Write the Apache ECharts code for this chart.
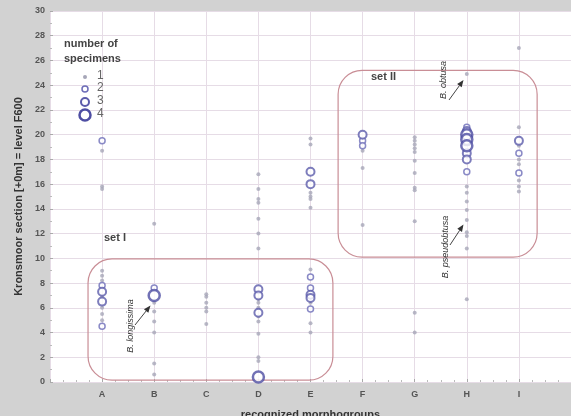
<!DOCTYPE html>
<html><head><meta charset="utf-8">
<script src="https://cdn.jsdelivr.net/npm/echarts@6/dist/echarts.min.js"></script>
<style>html,body{margin:0;padding:0;background:#d2d2d2;}#c{width:571px;height:416px;}</style>
</head><body><div id="c"></div>
<script>
// categories (morphogroups)
const categories = ['A','B','C','D','E','F','G','H','I'];
const yTicks = [0,2,4,6,8,10,12,14,16,18,20,22,24,26,28,30];
// [level in m, number of specimens]
const colA = [[19.5,2],[18.7,1],[15.8,1],[15.6,1],[9.0,1],[8.6,1],[8.2,1],[7.8,2],[7.3,3],[6.9,1],[6.5,3],[6.0,1],[5.5,1],[5.0,1],[4.5,2]];
const colB = [[12.8,1],[7.6,2],[7.0,4],[6.4,1],[5.7,1],[4.9,1],[4.0,1],[1.5,1],[0.6,1]];
const colC = [[7.1,1],[6.9,1],[6.4,1],[6.0,1],[5.7,1],[4.7,1]];
const colD = [[16.8,1],[15.6,1],[14.8,1],[14.5,1],[13.2,1],[12.0,1],[10.8,1],[7.5,3],[7.0,3],[6.7,1],[6.4,1],[6.0,1],[5.6,3],[5.3,1],[4.9,1],[3.9,1],[2.0,1],[1.7,1],[0.4,4]];
const colE = [[19.7,1],[19.2,1],[17.0,3],[16.0,3],[15.3,1],[15.0,1],[14.8,1],[14.1,1],[9.1,1],[8.5,2],[7.6,2],[7.05,3],[6.8,3],[6.4,1],[5.9,2],[4.75,1],[4.0,1]];
const colF = [[20.0,3],[19.5,2],[19.1,2],[18.7,1],[17.3,1],[12.7,1]];
const colG = [[19.8,1],[19.5,1],[19.2,1],[18.9,1],[18.6,1],[17.9,1],[16.9,1],[15.7,1],[15.5,1],[13.0,1],[5.6,1],[4.0,1]];
const colH = [[24.9,1],[20.6,2],[20.3,3],[20.0,4],[19.6,4],[19.1,4],[18.5,3],[18.0,3],[17.0,2],[15.8,1],[15.3,1],[14.6,1],[13.9,1],[13.1,1],[12.1,1],[11.8,1],[10.8,1],[6.7,1]];
const colI = [[27.0,1],[20.6,1],[19.5,3],[19.1,1],[18.5,2],[18.0,1],[17.6,1],[16.9,2],[16.3,1],[15.8,1],[15.4,1]];
const columns = [colA,colB,colC,colD,colE,colF,colG,colH,colI];

const styles = {
  1:{size:4, item:{color:'#a6a6b8', borderWidth:0}},
  2:{size:6, item:{color:'#ffffff', borderColor:'#6d6db8', borderWidth:1.5}},
  3:{size:8, item:{color:'#ffffff', borderColor:'#5c5cab', borderWidth:2}},
  4:{size:11, item:{color:'#ffffff', borderColor:'#4e4ea3', borderWidth:2.5}}
};
const series = [1,2,3,4].map(n => {
  const d = [];
  columns.forEach((col, ci) => col.forEach(p => { if (p[1] === n) d.push([ci + 1, p[0]]); }));
  return {type:'scatter', name:String(n), data:d, symbol:'circle', symbolSize:styles[n].size, itemStyle:styles[n].item, z:2+n, silent:true};
});

const chart = echarts.init(document.getElementById('c'));
const labelFont = {fontFamily:'Liberation Sans, Arial, sans-serif', fontWeight:'bold', fontSize:9, color:'#555'};
chart.setOption({
  backgroundColor:'#d2d2d2',
  animation:false,
  grid:{left:50, right:0, top:11, bottom:34, show:true, backgroundColor:'#ffffff', borderWidth:0, outerBoundsMode:'none', containLabel:false},
  xAxis:{type:'value', min:0, max:10, interval:1,
    name:'recognized morphogroups', nameLocation:'middle', nameGap:27,
    nameTextStyle:{fontFamily:'Liberation Sans, Arial, sans-serif', fontWeight:'bold', fontSize:11, color:'#333'},
    axisLine:{show:false},
    axisTick:{show:true, inside:true, length:3, lineStyle:{color:'#aaa'}},
    minorTick:{show:true, splitNumber:4, length:2, lineStyle:{color:'#bbb'}},
    axisLabel:Object.assign({margin:8, formatter:v => categories[v-1] || '', showMinLabel:false, showMaxLabel:false}, labelFont),
    splitLine:{show:true, lineStyle:{color:'#e6dce6', width:1}}
  },
  yAxis:{type:'value', min:0, max:30, interval:2,
    name:'Kronsmoor section [+0m] = level F600', nameLocation:'middle', nameGap:25,
    nameTextStyle:{fontFamily:'Liberation Sans, Arial, sans-serif', fontWeight:'bold', fontSize:11, color:'#333'},
    axisLine:{show:false},
    axisTick:{show:true, inside:true, length:3, lineStyle:{color:'#aaa'}},
    minorTick:{show:true, splitNumber:2, length:2, lineStyle:{color:'#bbb'}},
    axisLabel:Object.assign({margin:5, formatter:v => yTicks.indexOf(v) >= 0 ? String(v) : ''}, labelFont),
    splitLine:{show:true, lineStyle:{color:'#e6dce6', width:1}}
  },
  series: series
});

function px(x, y){ return chart.convertToPixel({gridIndex:0}, [x, y]); }
function box(x0, y0, x1, y1, r){
  const a = px(x0, y0), b = px(x1, y1);
  return {type:'rect', shape:{x:a[0], y:a[1], width:b[0]-a[0], height:b[1]-a[1], r:r},
    style:{fill:'none', stroke:'#c98e96', lineWidth:1.2}, z:1, silent:true};
}
function arrow(x0, y0, x1, y1){
  const ang = Math.atan2(y1 - y0, x1 - x0), L = 7, W = 2.8;
  const bx = x1 - L*Math.cos(ang), by = y1 - L*Math.sin(ang);
  const nx = -Math.sin(ang), ny = Math.cos(ang);
  return [
    {type:'line', shape:{x1:x0, y1:y0, x2:bx, y2:by}, style:{stroke:'#444', lineWidth:1}, z:10},
    {type:'polygon', shape:{points:[[x1,y1],[bx+nx*W,by+ny*W],[bx-nx*W,by-ny*W]]}, style:{fill:'#333'}, z:10}
  ];
}
const tFont = 'Liberation Sans, Arial, sans-serif';
const g = [
  box(0.73, 9.95, 5.43, 0.15, 24),
  box(5.53, 25.2, 9.35, 10.1, 24),
  {type:'text', left:104, top:232, style:{text:'set I', font:'bold 11px '+tFont, fill:'#444'}, z:10},
  {type:'text', left:371, top:71, style:{text:'set II', font:'bold 11px '+tFont, fill:'#444'}, z:10},
  {type:'text', x:130, y:326, rotation:Math.PI/2, style:{text:'B. longissima', font:'italic 9px '+tFont, fill:'#333', align:'center', verticalAlign:'middle'}, z:10},
  {type:'text', x:443, y:80, rotation:Math.PI/2, style:{text:'B. obtusa', font:'italic 9px '+tFont, fill:'#333', align:'center', verticalAlign:'middle'}, z:10},
  {type:'text', x:445, y:247, rotation:Math.PI/2, style:{text:'B. pseudobtusa', font:'italic 9px '+tFont, fill:'#333', align:'center', verticalAlign:'middle'}, z:10},
  {type:'text', left:64, top:36, style:{text:'number of\nspecimens', font:'bold 11px '+tFont, fill:'#444', lineHeight:15}, z:10}
];
const legY = [77, 89, 102, 115];
[1,2,3,4].forEach((n, i) => {
  const st = styles[n].item;
  g.push({type:'circle', shape:{cx:85, cy:legY[i], r:styles[n].size/2},
    style:{fill:st.color, stroke:st.borderWidth ? st.borderColor : null, lineWidth:st.borderWidth}, z:10});
  g.push({type:'text', left:97, top:legY[i]-7, style:{text:String(n), font:'12px '+tFont, fill:'#666'}, z:10});
});
arrow(135, 325, 150.5, 305.5).forEach(e => g.push(e));
arrow(449, 100, 463.5, 80).forEach(e => g.push(e));
arrow(450, 245, 463.5, 224.5).forEach(e => g.push(e));
chart.setOption({graphic:g});
</script>
</body></html>
